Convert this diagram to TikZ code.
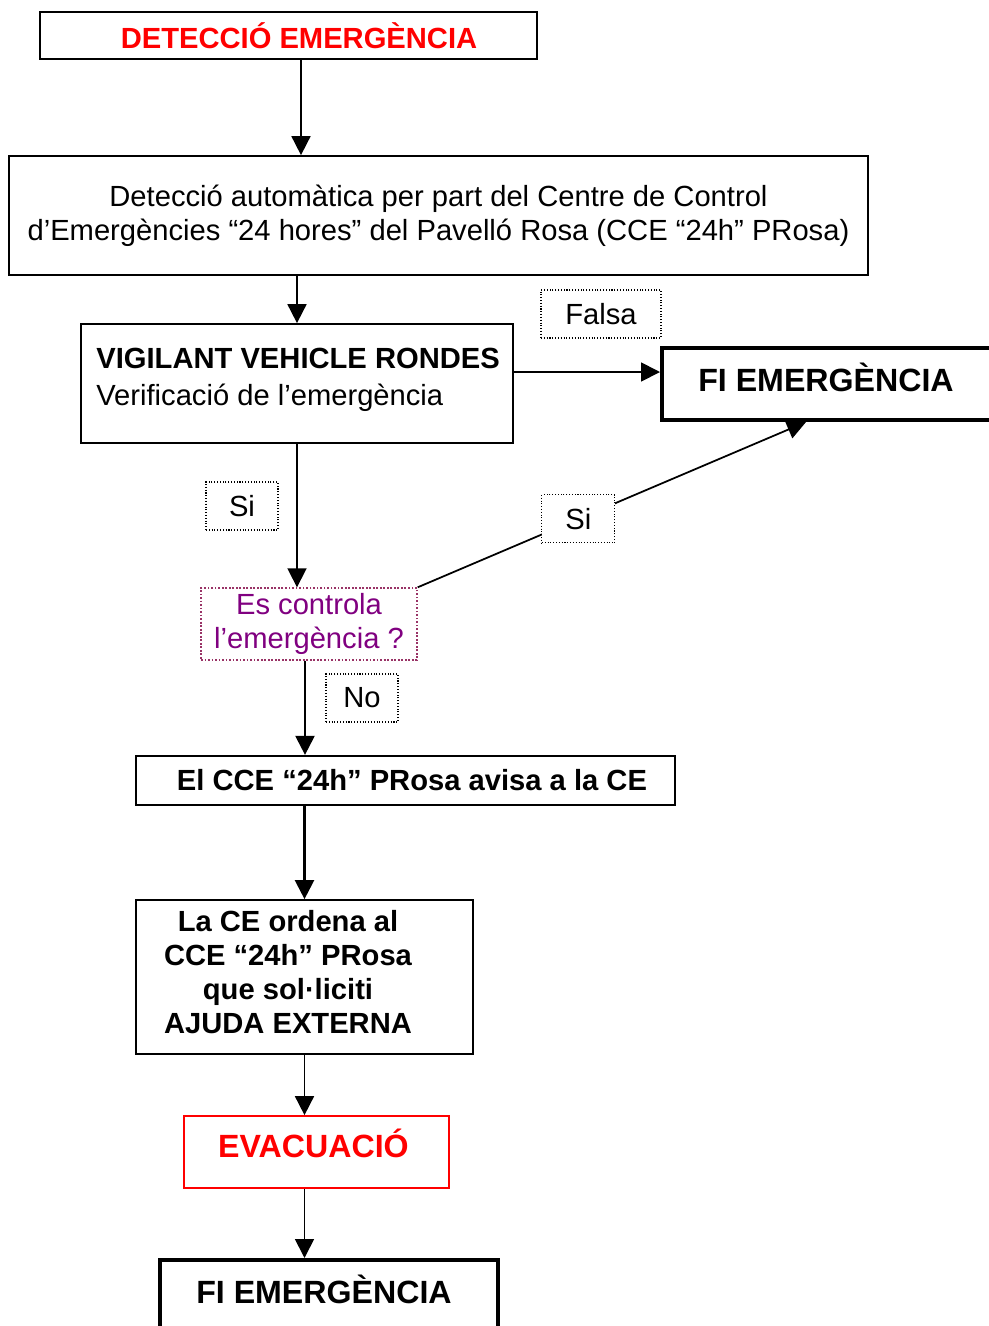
\documentclass[tikz,border=0pt]{standalone}
\usepackage{fontspec}
\setmainfont{Liberation Sans}
\usetikzlibrary{arrows.meta}

\definecolor{askpurple}{RGB}{128,0,128}
\definecolor{askrim}{RGB}{153,51,102}
\newcommand{\flowfont}{\fontsize{16.6}{19.3}\selectfont}
\newcommand{\bigflowfont}{\fontsize{18.3}{21}\selectfont\bfseries}

\tikzset{
  box/.style={draw, line width=1pt, inner sep=0pt, align=center, font=\flowfont},
  endbox/.style={box, line width=2.3pt},
  txt/.style={inner sep=0pt, anchor=base, font=\bigflowfont},
  tag/.style={draw, densely dotted, line width=0.6pt, inner sep=0pt, fill=white, font=\flowfont},
  arr/.style={-{Triangle[width=0.38cm,length=0.38cm]}, line width=1pt},
  heavyarr/.style={arr, line width=1.3pt}
}

\begin{document}
\begin{tikzpicture}[x=0.02cm, y=-0.02cm]
\useasboundingbox (0,0) rectangle (989,1326);

% boxes
\node[box, minimum width=9.94cm, minimum height=0.94cm, text=red, font=\flowfont\bfseries]
  (det) at (288.5,35.5) {\hspace*{0.42cm}DETECCIÓ EMERGÈNCIA};
\node[box, minimum width=17.18cm, minimum height=2.38cm]
  (auto) at (438.5,215.5) {Detecció automàtica per part del Centre de Control\\
  d’Emergències “24 hores” del Pavelló Rosa (CCE “24h” PRosa)};
\node[box, minimum width=8.64cm, minimum height=2.38cm] (vig) at (297,383.5) {};
\node[anchor=west, align=left, inner sep=0pt, font=\flowfont] (vigtxt) at (96,380)
  {\textbf{VIGILANT VEHICLE RONDES}\\[2pt] Verificació de l’emergència};
\node[endbox, minimum width=6.76cm, minimum height=1.44cm] (fi1) at (831,384) {};
\node[txt] (fi1txt) at (826,391) {FI EMERGÈNCIA};
\node[box, draw=askrim, densely dotted, line width=0.8pt, text=askpurple, minimum width=4.32cm, minimum height=1.44cm]
  (ctrl) at (309,624) {Es controla\\ l’emergència ?};
\node[box, line width=1.3pt, minimum width=10.78cm, minimum height=0.98cm, font=\flowfont\bfseries]
  (avisa) at (405.5,780.5) {\hspace*{0.26cm}El CCE “24h” PRosa avisa a la CE};
\node[box, minimum width=6.74cm, minimum height=3.08cm] (ordena) at (304.5,977) {};
\node[align=center, inner sep=0pt, font=\flowfont\bfseries] (ordenatxt) at (288,972)
  {La CE ordena al\\ CCE “24h” PRosa\\ que sol·liciti\\ AJUDA EXTERNA};
\node[box, draw=red, minimum width=5.3cm, minimum height=1.44cm] (evac) at (316.5,1152) {};
\node[txt, text=red] (evactxt) at (313.5,1157) {EVACUACIÓ};
\node[endbox, minimum width=6.76cm, minimum height=1.44cm] (fi2) at (329,1296) {};
\node[txt] (fi2txt) at (324,1303) {FI EMERGÈNCIA};

% answers
\node[tag, minimum width=2.4cm, minimum height=0.96cm] (falsa) at (601,314) {Falsa};
\node[tag, minimum width=1.44cm, minimum height=0.96cm] (si1) at (242,506) {Si};
\node[tag, minimum width=1.44cm, minimum height=0.96cm] (no) at (362,698) {No};

% arrows
\draw[arr] ([xshift=0.25cm]det.south) -- ([xshift=0.25cm]det.south |- auto.north);
\draw[arr] (vig.north |- auto.south) -- (vig.north);
\draw[arr] ([yshift=0.23cm]vig.east) -- ([yshift=0.23cm]vig.east -| fi1.west);
\draw[arr] (vig.south) -- (vig.south |- ctrl.north);
\draw[arr] (ctrl.north east) -- node[tag, pos=.414, minimum width=1.46cm, minimum height=0.96cm] (si2) {Si}
  ([xshift=-0.5cm]fi1.south);
\draw[heavyarr] ([xshift=-0.08cm]ctrl.south) -- ([xshift=-0.08cm]ctrl.south |- avisa.north);
\draw[heavyarr] (ordena.north |- avisa.south) -- (ordena.north);
\draw[arr] (ordena.south) -- (ordena.south |- evac.north);
\draw[arr] (ordena.south |- evac.south) -- (ordena.south |- fi2.north);
\end{tikzpicture}
\end{document}
